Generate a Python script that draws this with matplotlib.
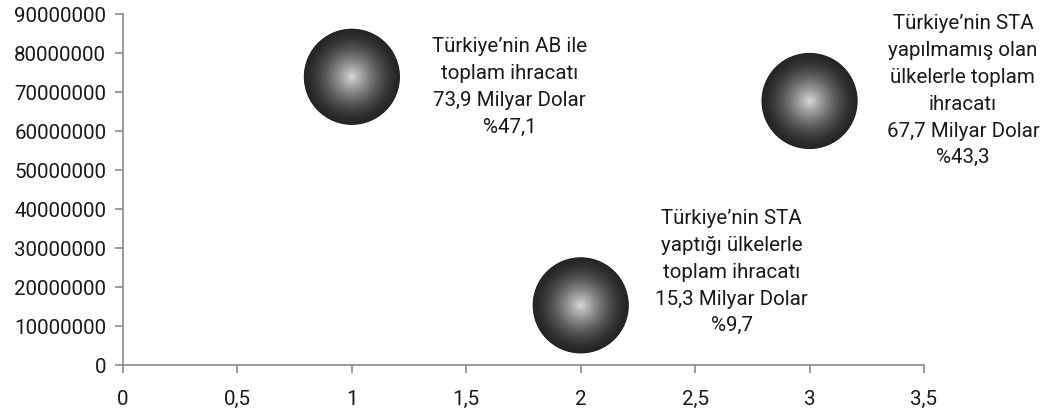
import matplotlib
matplotlib.use("Agg")
import matplotlib.pyplot as plt
import numpy as np
from matplotlib.colors import to_rgb

plt.rcParams['font.family'] = ['Roboto', 'DejaVu Sans']

# Data
x_vals = [1, 2, 3]
y_vals = [73900000, 15300000, 67700000]
bubble_sizes = [1, 1, 1]
labels = [
    "Türkiye’nin AB ile\ntoplam ihracatı\n73,9 Milyar Dolar\n%47,1",
    "Türkiye’nin STA\nyaptığı ülkelerle\ntoplam ihracatı\n15,3 Milyar Dolar\n%9,7",
    "Türkiye’nin STA\nyapılmamış olan\nülkelerle toplam\nihracatı\n67,7 Milyar Dolar\n%43,3",
]
label_pos = [(1.69, 71300000), (2.66, 23800000), (3.67, 70300000)]
x_ticks = [0, 0.5, 1, 1.5, 2, 2.5, 3, 3.5]
x_ticklabels = ["0", "0,5", "1", "1,5", "2", "2,5", "3", "3,5"]
y_ticks = list(range(0, 90000001, 10000000))
y_ticklabels = [str(v) for v in y_ticks]

fig = plt.figure(figsize=(10.56, 4.12), dpi=100)
ax = fig.add_axes([0.1165, 0.114, 0.7585, 0.852])
ax.set_xlim(0, 3.5)
ax.set_ylim(0, 90000000)

# Gradient spheres
base_s = 4700
edge = np.array(to_rgb("#262626"))
center = np.array(to_rgb("#dadada"))
N = 60
ax.scatter(x_vals, y_vals, s=[base_s * b * 1.02 for b in bubble_sizes], color="#1e1e1e", zorder=3, linewidths=0)
for k in range(N):
    t = k / N
    r = 1 - t
    frac = t ** 1.5
    col = edge + (center - edge) * frac
    ax.scatter(x_vals, y_vals, s=[base_s * b * r * r for b in bubble_sizes],
               color=tuple(col), zorder=4 + k * 0.001, linewidths=0)

for (lx, ly), txt in zip(label_pos, labels):
    ax.text(lx, ly, txt, ha="center", va="center", fontsize=14.8,
            color="#1a1a1a", linespacing=1.52, clip_on=False, zorder=10)

for s in ["top", "right"]:
    ax.spines[s].set_visible(False)
for s in ["left", "bottom"]:
    ax.spines[s].set_color("#8a8a8a")
    ax.spines[s].set_linewidth(1.2)

ax.set_xticks(x_ticks)
ax.set_xticklabels(x_ticklabels)
ax.set_yticks(y_ticks)
ax.set_yticklabels(y_ticklabels)
ax.tick_params(axis="both", colors="#8a8a8a", labelcolor="#1a1a1a", labelsize=14.8,
               length=6, width=1.2, direction="out")
ax.tick_params(axis="x", pad=12)
ax.tick_params(axis="y", pad=6)

fig.savefig("out.png", dpi=100)
